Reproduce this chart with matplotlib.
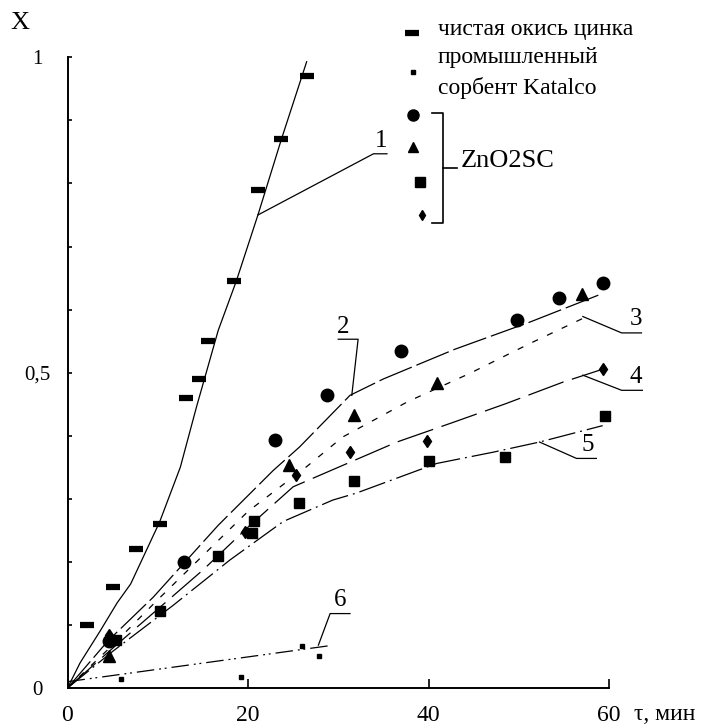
import matplotlib
matplotlib.use("Agg")
import matplotlib.pyplot as plt
from matplotlib.ticker import MultipleLocator

plt.rcParams['font.family'] = ['Liberation Serif', 'DejaVu Serif']

W, H = 724, 727

# measured points (tau, min ; X)
t_zno = [2.2, 5.0, 7.6, 10.2, 13.1, 14.6, 15.6, 18.4, 21.1, 23.7, 26.5]
x_zno = [0.10, 0.16, 0.22, 0.26, 0.46, 0.49, 0.55, 0.645, 0.79, 0.87, 0.97]

t_katalco = [5.9, 19.2, 26.0, 27.9]
x_katalco = [0.015, 0.017, 0.067, 0.05]

t_circ = [4.6, 12.9, 23.0, 28.7, 36.9, 49.8, 54.5, 59.3]
x_circ = [0.075, 0.199, 0.394, 0.465, 0.534, 0.583, 0.619, 0.642]

t_tri = [4.6, 24.5, 31.8, 40.9, 57.0]
x_tri = [0.051, 0.353, 0.433, 0.483, 0.625]

t_sq = [5.4, 10.2, 16.7, 20.4, 20.7, 25.6, 31.7, 40.0, 48.5, 59.6]
x_sq = [0.076, 0.122, 0.21, 0.245, 0.265, 0.294, 0.328, 0.36, 0.366, 0.432]

t_dia = [4.6, 19.7, 25.3, 31.3, 39.8, 59.3]
x_dia = [0.084, 0.247, 0.338, 0.374, 0.392, 0.505]

# calculated curves 1..6
c1_t = [0, 1.4, 3.6, 5.5, 7.0, 10.2, 12.5, 14.3, 16.7, 18.7, 21.1, 23.7, 26.5]
c1_x = [0, 0.04, 0.09, 0.135, 0.165, 0.263, 0.35, 0.446, 0.567, 0.645, 0.75, 0.87, 0.993]
c2_t = [0, 4.5, 9.5, 16.7, 22.8, 25.7, 31.3, 35.0, 42.9, 51.2, 59.2]
c2_x = [0, 0.075, 0.144, 0.258, 0.345, 0.382, 0.464, 0.49, 0.537, 0.58, 0.625]
c3_t = [0, 5, 10, 15, 20, 26.5, 30.5, 37.7, 44.6, 51.2, 57.1]
c3_x = [0, 0.068, 0.14, 0.21, 0.28, 0.351, 0.398, 0.454, 0.499, 0.546, 0.586]
c4_t = [0, 5, 10, 15, 20, 25, 30.5, 36.5, 42.5, 48.6, 54.9, 59.2]
c4_x = [0, 0.063, 0.125, 0.187, 0.255, 0.319, 0.353, 0.39, 0.42, 0.451, 0.485, 0.505]
c5_t = [0, 5, 11.7, 18, 23.9, 29.4, 32, 40.9, 47.2, 52.3, 59.3]
c5_x = [0, 0.058, 0.131, 0.203, 0.264, 0.298, 0.309, 0.356, 0.374, 0.39, 0.416]
c6_t = [0, 29]
c6_x = [0.01, 0.067]

curve_names = ['1', '2', '3', '4', '5', '6']
x_ticks = [0, 20, 40, 60]
x_ticklabels = ['0', '20', '40', '60']
y_ticks = [0, 0.5, 1]
y_ticklabels = ['0', '0,5', '1']


def fpx(x, y):
    return x / W, 1 - y / H


fig = plt.figure(figsize=(W / 100, H / 100), dpi=100)
ax = fig.add_axes([67.5 / W, 1 - 688 / H, (609 - 67.5) / W, (688 - 57.3) / H])
ax.set_xlim(0, 60)
ax.set_ylim(0, 1)
for s in ['top', 'right']:
    ax.spines[s].set_visible(False)
for s in ['left', 'bottom']:
    ax.spines[s].set_linewidth(1.4)

ax.set_xticks(x_ticks)
ax.set_xticklabels(x_ticklabels, fontsize=17)
ax.set_yticks(y_ticks)
ax.set_yticklabels(y_ticklabels, fontsize=15)
ax.yaxis.set_minor_locator(MultipleLocator(0.1))
ax.tick_params(axis='x', direction='in', length=6.5, width=1.2, pad=12)
ax.tick_params(axis='y', which='both', direction='in', length=3, width=1.2, pad=22)
for lab in ax.get_yticklabels():
    lab.set_horizontalalignment('center')

lw = 0.9
ax.plot(c1_t, c1_x, color='k', lw=lw, ls='-')
ax.plot(c2_t, c2_x, color='k', lw=lw, ls=(0, (28, 4)))
ax.plot(c3_t, c3_x, color='k', lw=lw, ls=(0, (5, 8)))
ax.plot(c4_t, c4_x, color='k', lw=lw, ls=(0, (30, 7)))
ax.plot(c5_t, c5_x, color='k', lw=lw, ls=(0, (22, 4, 1.5, 4)))
ax.plot(c6_t, c6_x, color='k', lw=lw, ls=(0, (14, 4, 1.5, 3, 1.5, 4)))

mk = dict(color='k', ls='none', clip_on=False)
ax.plot(t_zno, x_zno, marker='_', ms=10, mew=4.5, **mk)
ax.plot(t_katalco, x_katalco, marker='s', ms=3.5, **mk)
ax.plot(t_circ, x_circ, marker='o', ms=9, **mk)
ax.plot(t_tri, x_tri, marker='^', ms=8, **mk)
ax.plot(t_sq, x_sq, marker='s', ms=7.5, **mk)
ax.plot(t_dia, x_dia, marker='d', ms=6, **mk)

# curve number labels with leader lines
leaders = [
    ([21.1, 33.9, 35.4], [0.75, 0.847, 0.847], (34.8, 0.868)),
    ([31.5, 32.2, 30.0], [0.464, 0.553, 0.553], (30.5, 0.572)),
    ([57.1, 61.4, 63.6], [0.589, 0.563, 0.563], (63.0, 0.585)),
    ([57.1, 61.4, 63.7], [0.496, 0.472, 0.472], (63.0, 0.493)),
    ([52.3, 56.4, 58.6], [0.39, 0.364, 0.364], (57.6, 0.385)),
    ([27.8, 29.1, 31.3], [0.068, 0.118, 0.118], (30.2, 0.139)),
]
for name, (lt, lx, (tx, ty)) in zip(curve_names, leaders):
    ax.plot(lt, lx, color='k', lw=lw, clip_on=False)
    ax.text(tx, ty, name, fontsize=18, ha='center', va='center')

# axis captions
fig.text(*fpx(20, 23), 'X', fontsize=19, ha='center', va='center')
fig.text(*fpx(634, 715), 'τ, мин', fontsize=17, ha='left', va='center')

# legend
tf = fig.transFigure
def lmark(x, y, **kw):
    ax.plot(*fpx(x, y), transform=tf, clip_on=False, color='k', ls='none', **kw)

lmark(412, 33, marker='_', ms=10, mew=4.5)
lmark(413, 72, marker='s', ms=3.5)
lmark(413, 115, marker='o', ms=8)
lmark(413, 147, marker='^', ms=7)
lmark(420, 182, marker='s', ms=6.5)
lmark(422, 215, marker='d', ms=5.5)

bx = [fpx(432, 113), fpx(443, 113), fpx(443, 223), fpx(432, 223)]
ax.plot([p[0] for p in bx], [p[1] for p in bx], transform=tf, clip_on=False, color='k', lw=1.2)
mid = [fpx(443, 168), fpx(457, 168)]
ax.plot([p[0] for p in mid], [p[1] for p in mid], transform=tf, clip_on=False, color='k', lw=1.2)

fig.text(*fpx(438, 29), 'чистая окись цинка', fontsize=17, ha='left', va='center')
fig.text(*fpx(438, 58), 'промышленный', fontsize=17, ha='left', va='center')
fig.text(*fpx(438, 88), 'сорбент Katalco', fontsize=17, ha='left', va='center')
fig.text(*fpx(461, 161), 'ZnO2SC', fontsize=19, ha='left', va='center')

fig.savefig('out.png', dpi=100)
